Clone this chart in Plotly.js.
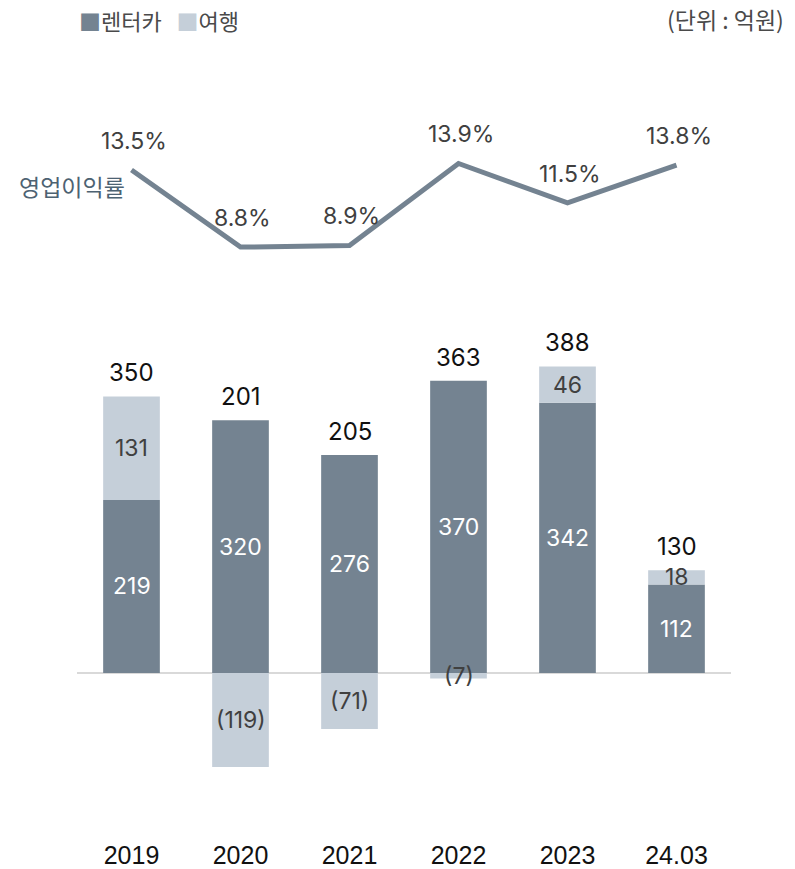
<!DOCTYPE html>
<html>
<head>
<meta charset="utf-8">
<script src="https://cdn.plot.ly/plotly-3.0.1.min.js"></script>
<style>html,body{margin:0;padding:0;background:#fff;}#chart{width:795px;height:869px;}</style>
</head>
<body>
<div id="chart"></div>
<script>
const categories = ['2019', '2020', '2021', '2022', '2023', '24.03'];
const rentalValues = [219, 320, 276, 370, 342, 112];
const travelValues = [131, -119, -71, -7, 46, 18];
const totalValues = [350, 201, 205, 363, 388, 130];
const marginValues = [13.5, 8.8, 8.9, 13.9, 11.5, 13.8];

const DARK = '#748391';
const LIGHT = '#c5cfd9';
const TXT = '#404040';
const NUMFONT = 'Inter, "Noto Sans CJK KR", sans-serif';
const KRFONT = '"Noto Sans CJK KR", "Noto Sans", sans-serif';

const fmt = v => v < 0 ? '(' + Math.abs(v) + ')' : String(v);

const traces = [
  {type: 'bar', name: '렌터카', x: categories, y: rentalValues, width: 0.52,
   marker: {color: DARK}, hoverinfo: 'skip', showlegend: false},
  {type: 'bar', name: '여행', x: categories, y: travelValues, width: 0.52,
   marker: {color: LIGHT}, hoverinfo: 'skip', showlegend: false},
  {type: 'scatter', mode: 'lines', name: '영업이익률', x: categories, y: marginValues,
   yaxis: 'y2', line: {color: DARK, width: 5}, hoverinfo: 'skip', showlegend: false}
];

const annotations = [];
categories.forEach((c, i) => {
  const r = rentalValues[i], t = travelValues[i];
  annotations.push({x: i, y: r / 2, xref: 'x', yref: 'y', text: fmt(r), showarrow: false,
    font: {family: NUMFONT, size: 23, color: '#ffffff'}});
  const ty = t >= 0 ? r + t / 2 : t / 2;
  annotations.push({x: i, y: ty, xref: 'x', yref: 'y', text: fmt(t), showarrow: false,
    font: {family: NUMFONT, size: 23, color: TXT}});
  const top = r + Math.max(t, 0);
  annotations.push({x: i, y: top, xref: 'x', yref: 'y', text: String(totalValues[i]), showarrow: false,
    yanchor: 'bottom', yshift: 7, font: {family: NUMFONT, size: 24, color: '#111111'}});
  annotations.push({x: i, y: marginValues[i], xref: 'x', yref: 'y2', text: marginValues[i].toFixed(1) + '%',
    showarrow: false, yanchor: 'bottom', yshift: 13, xshift: 2, font: {family: NUMFONT, size: 23, color: TXT}});
});

annotations.push({xref: 'paper', yref: 'paper', x: 0.0, y: 1, xanchor: 'left', yanchor: 'middle',
  xshift: 0, yshift: 80,
  text: '<span style="color:' + DARK + '">■</span>렌터카   <span style="color:' + LIGHT + '">■</span>여행',
  showarrow: false, font: {family: KRFONT, size: 22, color: '#4a4a4a'}});
annotations.push({xref: 'paper', yref: 'paper', x: 1, y: 1, xanchor: 'right', yanchor: 'middle',
  xshift: 55, yshift: 81, text: '(단위 : 억원)', showarrow: false,
  font: {family: KRFONT, size: 23, color: '#4a4a4a'}});
annotations.push({xref: 'paper', yref: 'paper', x: 0, y: 1, xanchor: 'left', yanchor: 'middle',
  xshift: -60, yshift: -86, text: '영업이익률', showarrow: false,
  font: {family: KRFONT, size: 23, color: '#4d6272'}});

const layout = {
  width: 795, height: 869,
  margin: {l: 77, r: 64, t: 100, b: 31},
  paper_bgcolor: '#ffffff', plot_bgcolor: '#ffffff',
  barmode: 'relative', bargap: 0.48,
  showlegend: false,
  xaxis: {type: 'category', range: [-0.5, 5.5], showgrid: false, showline: false, zeroline: false,
    ticks: '', tickfont: {family: '"Liberation Sans", Arial, sans-serif', size: 25, color: '#111111'},
    automargin: false, fixedrange: true},
  yaxis: {range: [-208.9, 725.3], showgrid: false, showticklabels: false, zeroline: true,
    zerolinecolor: '#d9d9d9', zerolinewidth: 2, showline: false, fixedrange: true},
  yaxis2: {range: [-27.23, 17.77], overlaying: 'y', showgrid: false, showticklabels: false,
    zeroline: false, showline: false, fixedrange: true},
  annotations: annotations
};

Plotly.newPlot('chart', traces, layout, {staticPlot: true, displayModeBar: false});
</script>
</body>
</html>
